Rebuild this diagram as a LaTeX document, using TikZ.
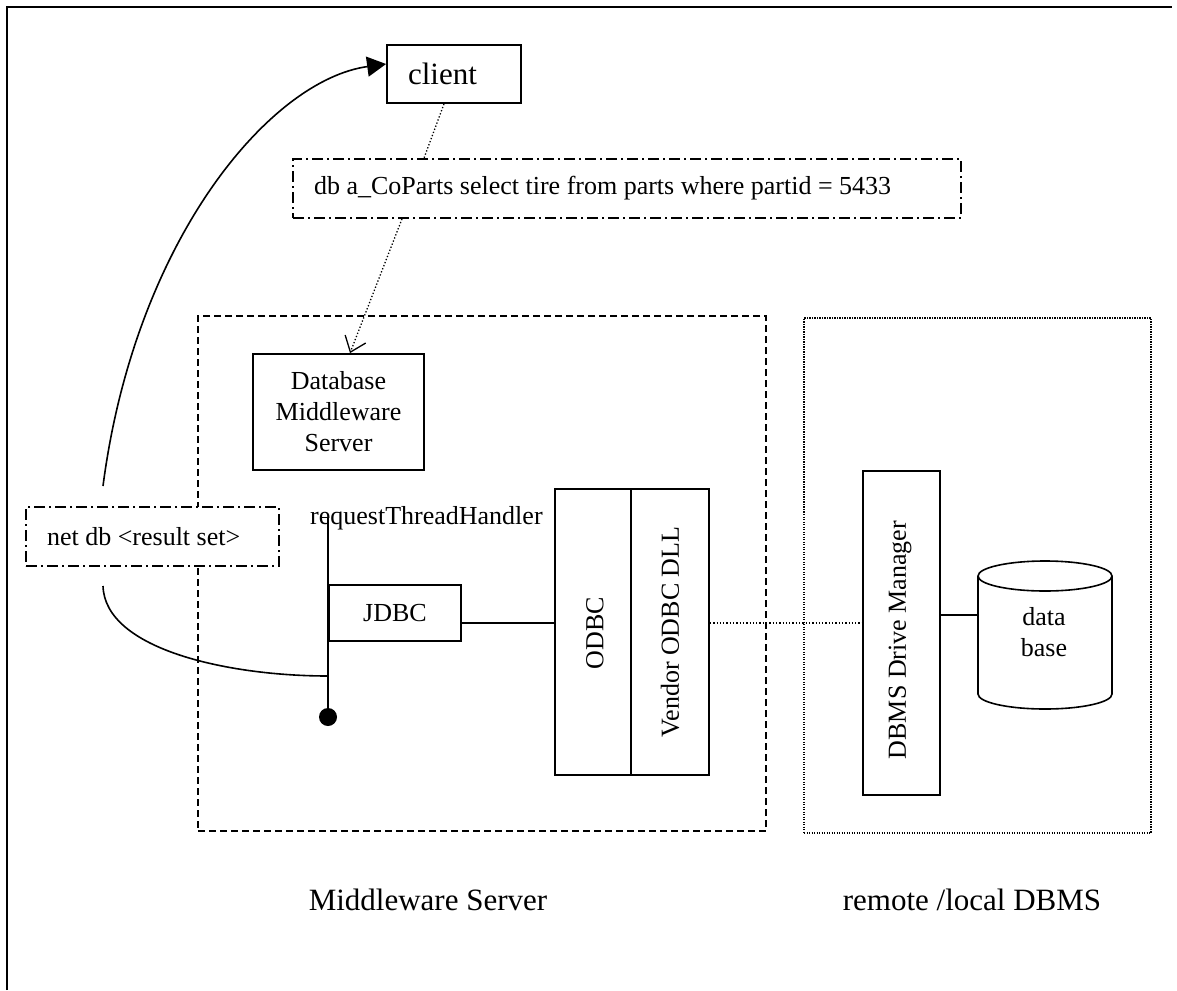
\documentclass[tikz,border=0pt]{standalone}
\usepackage{fontspec}
\setmainfont{Liberation Serif}
\usetikzlibrary{arrows.meta,calc}
\newcommand\txtbody{\fontsize{26pt}{31pt}\selectfont}
\newcommand\txtlarge{\fontsize{31pt}{37pt}\selectfont}
\tikzset{
  frame/.style={line width=2pt},
  box/.style={draw, line width=1.8pt, inner sep=0pt, font=\txtbody},
  note/.style={draw, fill=white, line width=1.8pt, dash pattern=on 11pt off 4pt on 2pt off 4pt,
               inner ysep=0pt, inner xsep=21pt, align=flush left, font=\txtbody},
  tier/.style={draw, line width=1.8pt, dash pattern=on 7pt off 4pt},
  hosttier/.style={draw, line width=1.5pt, dash pattern=on 1.2pt off 1.3pt},
  conn/.style={line width=1.6pt},
  dotconn/.style={line width=1.3pt, dash pattern=on 1.3pt off 2pt},
  cyl/.style={line width=1.6pt},
  lbl/.style={font=\txtbody, inner sep=0pt},
}
\begin{document}
\begin{tikzpicture}[x=1pt, y=-1pt]
\useasboundingbox (0,0) rectangle (1177,990);

% page frame (top and left edges only)
\draw[frame] (7,990) -- (7,7) -- (1172,7);

% tier outlines
\node[tier, minimum width=568pt, minimum height=515pt] (mwtier) at (482,573.5) {};
\node[hosttier, minimum width=347pt, minimum height=515pt] (dbtier) at (977.5,575.5) {};

% client and request text
\node[box, font=\txtlarge, minimum width=134pt, minimum height=58pt,
      text width=92pt, inner xsep=21pt, align=flush left] (client) at (454,74) {client};
\node[note, minimum height=59pt, text width=626pt] (query) at (627,188.5)
  {db a\_CoParts select tire from parts where partid = 5433};

% middleware server parts
\node[box, minimum width=171pt, minimum height=116pt, align=center] (dms) at (338.5,412)
  {Database\\Middleware\\Server};
\node[note, minimum height=59pt, text width=211pt] (netdb) at (152.5,536.5)
  {net db <result set>};
\node[lbl, anchor=base west] (rthlabel) at (310,524) {requestThreadHandler};
\coordinate (rth) at (328,517);
\node[circle, fill, inner sep=0pt, minimum size=18pt] (dot) at (328,717) {};
\node[box, minimum width=132pt, minimum height=56pt] (jdbc) at (395,613) {JDBC};
\node[box, minimum width=76pt, minimum height=286pt] (odbc) at (593,632) {};
\node[box, minimum width=78pt, minimum height=286pt] (vendor) at (670,632) {};
\node[lbl, rotate=90] (odbclabel) at (595,633) {ODBC};
\node[lbl, rotate=90] (vendorlabel) at (670,632) {Vendor ODBC DLL};

% DBMS side
\node[box, minimum width=77pt, minimum height=324pt] (dbms) at (901.5,633) {};
\node[lbl, rotate=90] (dbmslabel) at (900,640) {DBMS Drive Manager};
\node[minimum width=134pt, minimum height=148pt, inner sep=0pt] (db) at (1045,635) {};
\draw[cyl] (978,576) -- (978,694)
  arc[start angle=180, end angle=360, x radius=67pt, y radius=15pt] -- (1112,576);
\draw[cyl] (1045,576) ellipse[x radius=67pt, y radius=15pt];
\node[lbl, align=center] (dblabel) at (1044,632) {data\\base};

% tier captions
\node[font=\txtlarge, inner sep=0pt, anchor=base] (mwcap) at (428,910) {Middleware Server};
\node[font=\txtlarge, inner sep=0pt, anchor=base] (dbcap) at (972,910) {remote /local DBMS};

% connectors
\draw[dotconn] ([xshift=-10pt]client.south) -- ([xshift=-203pt]query.north);
\draw[dotconn, -{Straight Barb[length=14pt,width=22pt,line width=1.3pt]}]
  ([xshift=-225pt]query.south) -- ([xshift=11.5pt]dms.north);
\draw[conn] (rth) -- (dot);
\draw[conn] (jdbc.east |- 0,623) -- (odbc.west |- 0,623);
\draw[dotconn] (vendor.east |- 0,623) -- (dbms.west |- 0,623);
\draw[conn] (dbms.east |- 0,615) -- (db.west |- 0,615);

\coordinate (up) at (103,486);
\coordinate (low) at (103,586);
\draw[conn, -{Triangle[length=19pt,width=20pt]}]
  (up) .. controls (135,240) and (270,80) .. (client.west |- 0,64);
\draw[conn] (low) .. controls (105,650) and (230,676) .. (rth |- 0,676);
\end{tikzpicture}
\end{document}
